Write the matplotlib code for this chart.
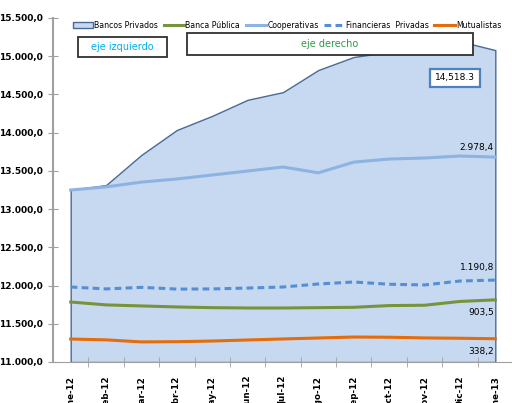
import numpy as np
import matplotlib.pyplot as plt
from matplotlib.patches import Patch

plt.rcParams['font.family'] = ['Liberation Sans Narrow', 'DejaVu Sans']

meses = ["Ene-12", "Feb-12", "Mar-12", "Abr-12", "May-12", "Jun-12", "Jul-12",
         "Ago-12", "Sep-12", "Oct-12", "Nov-12", "Dic-12", "Ene-13"]

# eje izquierdo
bancos_privados = [13250, 13315, 13710, 14035, 14220, 14430, 14530,
                   14820, 14990, 15055, 15130, 15195, 15080]

# eje derecho
banca_publica = [872, 830, 815, 800, 790, 785, 785, 790, 795, 820, 825, 880, 903.5]
cooperativas = [2500, 2545, 2615, 2660, 2718, 2776, 2834, 2750, 2905, 2950, 2965, 2994, 2978.4]
financieras = [1090, 1062, 1085, 1060, 1062, 1075, 1090, 1134, 1163, 1130, 1120, 1177, 1190.8]
mutualistas = [334, 322, 292, 295, 305, 320, 335, 349, 363, 360, 350, 345, 338.2]

etiquetas_fin = ["2.978,4", "1.190,8", "903,5", "338,2"]
valores_fin = [cooperativas[-1], financieras[-1], banca_publica[-1], mutualistas[-1]]


def fmt_es(v, pos=None):
    s = f"{v:,.1f}"
    return s.replace(",", "X").replace(".", ",").replace("X", ".")


fig = plt.figure(figsize=(5.12, 4.03), dpi=100)
ax = fig.add_axes([53 / 512, 41 / 403, 460 / 512, 344 / 403])
x = np.arange(len(meses))

ax.fill_between(x, bancos_privados, 11000, facecolor='#c6d9f1',
                edgecolor='#4a6a96', linewidth=1.0, zorder=1)
ax.set_xlim(-0.5, 12.5)
ax.set_ylim(11000, 15500)
ax.set_yticks(np.arange(11000, 15501, 500))
ax.yaxis.set_major_formatter(plt.FuncFormatter(fmt_es))
ax.tick_params(axis='y', direction='inout', length=7, color='#a0a0a0',
               labelsize=6.5, pad=4)
ax.set_xticks(x)
ax.set_xticklabels(meses, rotation=90, fontsize=6.3, fontweight='bold')
ax.tick_params(axis='x', length=0, pad=10)
ax.set_xticks(x[:-1] + 0.5, minor=True)
ax.tick_params(axis='x', which='minor', direction='inout', length=7, color='#a0a0a0')
for lab in ax.get_yticklabels():
    lab.set_fontweight('bold')
for s in ['top', 'right']:
    ax.spines[s].set_visible(False)
ax.spines['left'].set_color('#a0a0a0')
ax.spines['left'].set_linewidth(1.5)
ax.spines['bottom'].set_color('#a0a0a0')

ax2 = ax.twinx()
ax2.set_ylim(0, 5000)
ax2.set_yticks([])
ax2.spines[:].set_visible(False)
ax2.plot(x, banca_publica, color='#77933c', lw=2.2, label='Banca Pública')
ax2.plot(x, cooperativas, color='#8db3e2', lw=2.2, label='Cooperativas')
ax2.plot(x, financieras, color='#558ed5', lw=2.2, ls=(0, (2.2, 1.4)),
         label='Financieras  Privadas')
ax2.plot(x, mutualistas, color='#e46c0a', lw=2.2, label='Mutualistas')

desp = [7, 9, -9, -9]
for lab, v, d in zip(etiquetas_fin, valores_fin, desp):
    ax2.annotate(lab, xy=(12, v), xytext=(-1, d), textcoords='offset points',
                 ha='right', va='center', fontsize=6.5)

ax2.text(10.86, 4128, "14,518.3", ha='center', va='center', fontsize=6.5,
         bbox=dict(boxstyle='square,pad=0.55', fc='white', ec='#4f81bd', lw=1.6))

handles = [Patch(facecolor='#c6d9f1', edgecolor='#4a6a96', label='Bancos Privados')]
handles += ax2.get_lines()
fig.legend(handles=handles, loc='center', bbox_to_anchor=(287 / 512, 1 - 25 / 403),
           ncol=5, frameon=False, fontsize=5.6, handlelength=2.6, handletextpad=0.2,
           columnspacing=0.7, borderpad=0)

fig.patches.append(plt.Rectangle((78 / 512, 1 - 57 / 403), 89 / 512, 20 / 403,
                                 transform=fig.transFigure, fc='white', ec='#303030',
                                 lw=1.3, zorder=3))
fig.patches.append(plt.Rectangle((187 / 512, 1 - 55 / 403), 286 / 512, 22 / 403,
                                 transform=fig.transFigure, fc='white', ec='#303030',
                                 lw=1.3, zorder=3))
fig.text(122 / 512, 1 - 47 / 403, "eje izquierdo", color='#00b0f0', fontsize=7,
         ha='center', va='center', zorder=4)
fig.text(330 / 512, 1 - 44 / 403, "eje derecho", color='#2e9a48', fontsize=7,
         ha='center', va='center', zorder=4)

fig.savefig('out.png', dpi=100)
